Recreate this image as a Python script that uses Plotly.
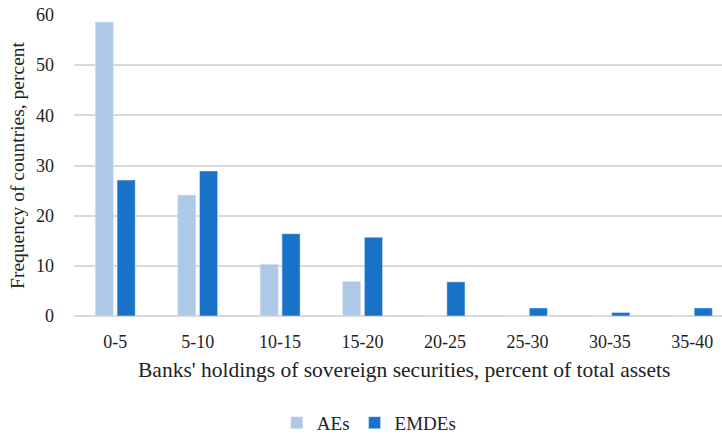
import plotly.graph_objects as go

# Distribution of banks' sovereign holdings (percent of total assets)
categories = ["0-5", "5-10", "10-15", "15-20", "20-25", "25-30", "30-35", "35-40"]
aes = [58.6, 24.1, 10.3, 6.9, 0, 0, 0, 0]
emdes = [27.1, 28.9, 16.4, 15.7, 6.8, 1.6, 0.7, 1.6]

FONT = "Times New Roman, Liberation Serif, serif"

fig = go.Figure()
fig.add_trace(go.Bar(name="AEs", x=categories, y=aes, marker_color="#aec8e8"))
fig.add_trace(go.Bar(name="EMDEs", x=categories, y=emdes, marker_color="#1872c8"))

fig.update_layout(
    width=722,
    height=436,
    margin=dict(l=74, r=0, t=15, b=120, autoexpand=False),
    paper_bgcolor="white",
    plot_bgcolor="white",
    barmode="group",
    bargap=0.47,
    bargroupgap=0.17,
    font=dict(family=FONT, size=18, color="#222222"),
    showlegend=True,
    legend=dict(
        orientation="h",
        x=0.455,
        xanchor="center",
        y=-0.355,
        yanchor="middle",
        font=dict(family=FONT, size=19),
        itemwidth=30,
        tracegroupgap=0,
    ),
    annotations=[
        dict(
            text="Banks' holdings of sovereign securities, percent of total assets",
            xref="paper",
            yref="paper",
            x=0.51,
            y=-0.18,
            xanchor="center",
            yanchor="middle",
            showarrow=False,
            font=dict(family=FONT, size=21.5, color="#222222"),
        )
    ],
)
fig.update_xaxes(
    type="category",
    range=[-0.5, 7.36],
    showgrid=False,
    showline=False,
    ticks="",
    automargin=False,
    ticklabelstandoff=13,
    tickfont=dict(family=FONT, size=18),
)
fig.update_yaxes(
    range=[0, 60],
    dtick=10,
    showgrid=True,
    gridcolor="#d9d9d9",
    gridwidth=1.5,
    zeroline=True,
    zerolinecolor="#d9d9d9",
    zerolinewidth=1.5,
    ticks="",
    automargin=False,
    ticklabelstandoff=19,
    tickfont=dict(family=FONT, size=18),
    title=dict(
        text="Frequency of countries, percent",
        font=dict(family=FONT, size=19.5),
        standoff=6,
    ),
)

fig.write_html("out.html")
